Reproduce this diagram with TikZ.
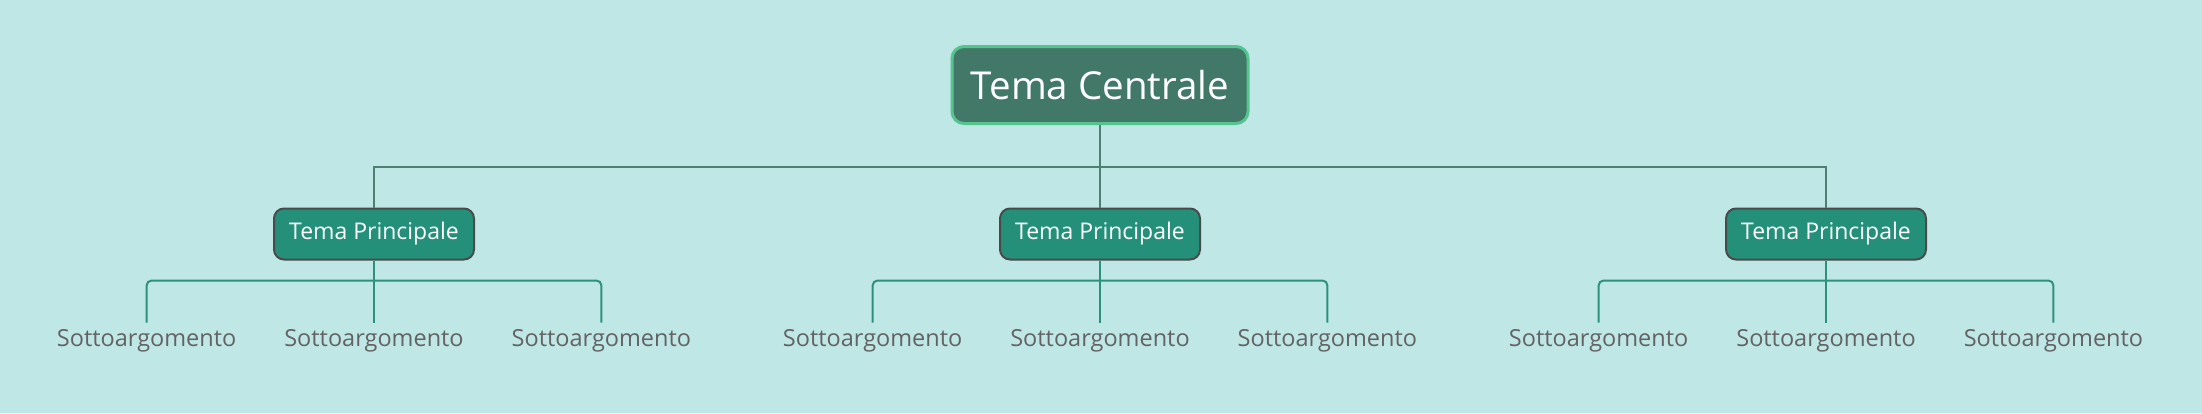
\documentclass[tikz,border=0pt]{standalone}
\usepackage{fontspec}
\setmainfont{Open Sans}
\usetikzlibrary{positioning}

\definecolor{bgcol}{HTML}{BEE7E6}
\definecolor{centrefill}{HTML}{417868}
\definecolor{centreedge}{HTML}{55C48F}
\definecolor{themefill}{HTML}{24907A}
\definecolor{themeedge}{HTML}{4A4A4A}
\definecolor{linkgrey}{HTML}{4F7F73}
\definecolor{linkgreen}{HTML}{2B917B}
\definecolor{subgrey}{HTML}{636363}

\tikzset{
  centre/.style={draw=centreedge, line width=3pt, fill=centrefill, rounded corners=12pt,
    text=white, minimum width=296pt, minimum height=77pt, font=\fontsize{38.5}{46}\selectfont},
  theme/.style={draw=themeedge, line width=2pt, fill=themefill, rounded corners=10pt,
    text=white, minimum width=200pt, minimum height=51pt, font=\fontsize{23}{28}\selectfont},
  subtopic/.style={text=subgrey, minimum width=200pt, minimum height=36pt, inner sep=0pt,
    font=\fontsize{23.5}{28}\selectfont},
  toplink/.style={draw=linkgrey, line width=2pt},
  sublink/.style={draw=linkgreen, line width=2pt, rounded corners=5pt},
}

\begin{document}
\begin{tikzpicture}[x=1pt, y=-1pt]

  % Background

  \fill[bgcol] (0,0) rectangle (2202,413);
  \useasboundingbox (0,0) rectangle (2202,413);

  % Nodes

  \node[centre] (c) at (1100,85) {Tema Centrale};
  \node[theme, below=82.5pt of c] (m2) {Tema Principale};
  \node[theme, left=524pt of m2] (m1) {Tema Principale};
  \node[theme, right=524pt of m2] (m3) {Tema Principale};

  \node[subtopic, below=62pt of m1] (s12) {Sottoargomento};
  \node[subtopic, left=27pt of s12] (s11) {Sottoargomento};
  \node[subtopic, right=27pt of s12] (s13) {Sottoargomento};

  \node[subtopic, below=62pt of m2] (s22) {Sottoargomento};
  \node[subtopic, left=27pt of s22] (s21) {Sottoargomento};
  \node[subtopic, right=27pt of s22] (s23) {Sottoargomento};

  \node[subtopic, below=62pt of m3] (s32) {Sottoargomento};
  \node[subtopic, left=27pt of s32] (s31) {Sottoargomento};
  \node[subtopic, right=27pt of s32] (s33) {Sottoargomento};

  % Edges

  \draw[toplink] (c.south) -- (m2.north);
  \draw[toplink] (m1.north) |- ([yshift=-42pt]c.south) -| (m3.north);

  \draw[sublink] (m1.south) -- (s12.north);
  \draw[sublink] (s11.north) |- ([yshift=-20pt]m1.south) -| (s13.north);
  \draw[sublink] (m2.south) -- (s22.north);
  \draw[sublink] (s21.north) |- ([yshift=-20pt]m2.south) -| (s23.north);
  \draw[sublink] (m3.south) -- (s32.north);
  \draw[sublink] (s31.north) |- ([yshift=-20pt]m3.south) -| (s33.north);

\end{tikzpicture}
\end{document}
